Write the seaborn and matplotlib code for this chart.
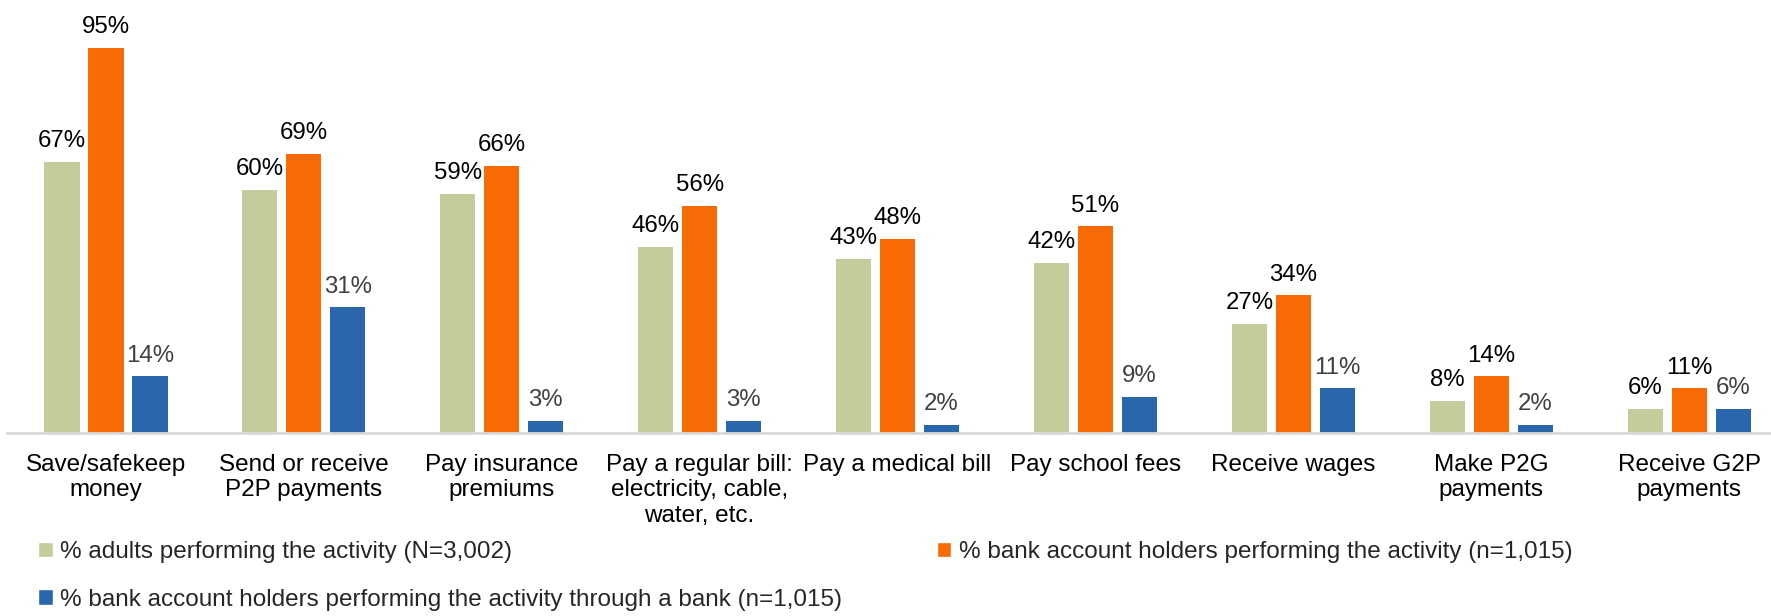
import matplotlib
matplotlib.use("Agg")
import matplotlib.pyplot as plt
import seaborn as sns
import pandas as pd
from matplotlib.patches import Patch

categories = ["Save/safekeep\nmoney", "Send or receive\nP2P payments", "Pay insurance\npremiums",
              "Pay a regular bill:\nelectricity, cable,\nwater, etc.", "Pay a medical bill",
              "Pay school fees", "Receive wages", "Make P2G\npayments", "Receive G2P\npayments"]
series_names = ["% adults performing the activity (N=3,002)",
                "% bank account holders performing the activity (n=1,015)",
                "% bank account holders performing the activity through a bank (n=1,015)"]
adults = [67, 60, 59, 46, 43, 42, 27, 8, 6]
holders = [95, 69, 66, 56, 48, 51, 34, 14, 11]
through_bank = [14, 31, 3, 3, 2, 9, 11, 2, 6]

colors = ["#C6CB9C", "#F86A04", "#2966AC"]
label_colors = ["#000000", "#000000", "#404040"]

rows = []
for name, vals in zip(series_names, [adults, holders, through_bank]):
    for c, v in zip(categories, vals):
        rows.append({"category": c, "series": name, "value": v})
df = pd.DataFrame(rows)

sns.set_style("white")
plt.rcParams["font.family"] = ["Liberation Sans", "DejaVu Sans"]

fig = plt.figure(figsize=(17.71, 6.16), dpi=100)
ax = fig.add_axes([7 / 1771, 0.2971, 1 - 7 / 1771, 0.6575])

sns.barplot(data=df, x="category", y="value", hue="series", hue_order=series_names,
            order=categories, palette=colors, saturation=1, width=0.667, gap=0.2,
            linewidth=0, ax=ax, legend=False)

for cont, lc in zip(ax.containers, label_colors):
    ax.bar_label(cont, labels=[f"{int(round(b.get_height()))}%" for b in cont],
                 padding=7, fontsize=17.3, color=lc)

ax.set_xlim(-0.5, -0.5 + (1771 - 7) / 197.9)
ax.set_ylim(0, 100)
ax.set_xlabel("")
ax.set_ylabel("")
ax.set_yticks([])
for s in ["top", "right", "left"]:
    ax.spines[s].set_visible(False)
ax.spines["bottom"].set_color("#D9D9D9")
ax.spines["bottom"].set_linewidth(2)
ax.tick_params(axis="x", length=0, pad=15, labelsize=17.5, labelcolor="#000000")

handles = [Patch(facecolor=colors[0]), Patch(facecolor=colors[2]), Patch(facecolor=colors[1])]
labels = [series_names[0], series_names[2], series_names[1]]
fig.legend(handles, labels, loc="upper left", bbox_to_anchor=(38 / 1771, 1 - 541 / 616),
           ncol=2, frameon=False, fontsize=17.5, handlelength=0.6, handleheight=0.6,
           handletextpad=0.3, columnspacing=3.9, labelspacing=1.05, borderaxespad=0,
           borderpad=0)

fig.savefig("out.png", dpi=100)
